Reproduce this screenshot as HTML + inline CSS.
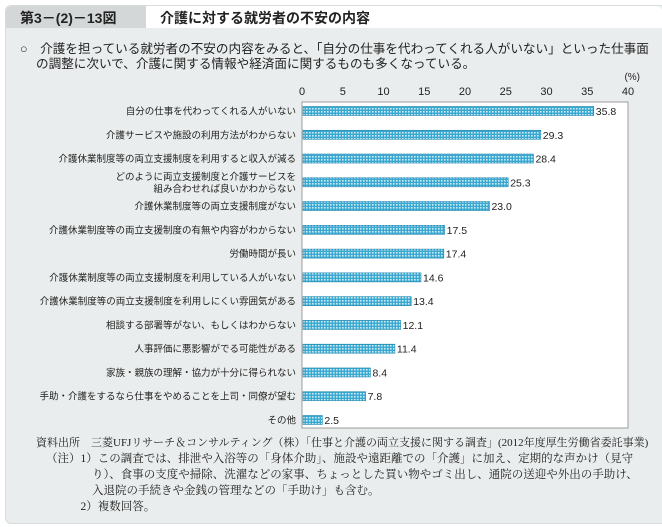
<!DOCTYPE html>
<html><head><meta charset="utf-8">
<style>
body{margin:0;width:662px;height:527px;background:#fff;font-family:"Liberation Sans","Noto Sans CJK JP",sans-serif;overflow:hidden}
#panel{position:absolute;left:5px;top:5px;width:660px;height:517px;background:#eaeded;border-radius:6px;border:1px solid #d8dcdc}
.t{position:absolute;white-space:nowrap;color:#222}
</style></head><body>
<div id="panel"></div>
<div style="position:absolute;left:6px;top:6px;width:656px;height:22px;background:#fff;border-radius:5px 5px 0 0"></div>
<div style="position:absolute;left:6px;top:6px;width:140px;height:22px;background:#d3d7d7;border-radius:5px 0 0 0"></div>
<div class="t" style="left:20px;top:8px;font-size:14px;font-weight:bold">第3－(2)－13図</div>
<div class="t" style="left:160px;top:8px;font-size:14px;font-weight:bold">介護に対する就労者の不安の内容</div>
<div class="t" style="left:20px;top:38px;font-size:12.6px">○　介護を担っている就労者の不安の内容をみると、「自分の仕事を代わってくれる人がいない」といった仕事面</div>
<div class="t" style="left:36px;top:53px;font-size:12.6px">の調整に次いで、介護に関する情報や経済面に関するものも多くなっている。</div>
<svg id="chart" width="662" height="527" style="position:absolute;left:0;top:0">
<defs><pattern id="pt" width="3" height="3" patternUnits="userSpaceOnUse"><rect width="3" height="3" fill="#3aa8d0"/><rect width="1.6" height="1.6" fill="#cdebf4"/></pattern></defs>
</svg>
<div class="t" style="left:36px;top:434px;font-size:11px;font-family:'Liberation Serif','Noto Serif CJK SC',serif">資料出所　三菱UFJリサーチ＆コンサルティング（株）「仕事と介護の両立支援に関する調査」(2012年度厚生労働省委託事業)</div>
<div class="t" style="left:46px;top:451px;font-size:11.5px;line-height:16px;font-family:'Liberation Serif','Noto Serif CJK SC',serif">（注）1）この調査では、排泄や入浴等の「身体介助」、施設や遠距離での「介護」に加え、定期的な声かけ（見守<br>　　　　り）、食事の支度や掃除、洗濯などの家事、ちょっとした買い物やゴミ出し、通院の送迎や外出の手助け、<br>　　　　入退院の手続きや金銭の管理などの「手助け」も含む。<br>　　　2）複数回答。</div>
<script>
const categories=["自分の仕事を代わってくれる人がいない","介護サービスや施設の利用方法がわからない","介護休業制度等の両立支援制度を利用すると収入が減る","どのように両立支援制度と介護サービスを|組み合わせれば良いかわからない","介護休業制度等の両立支援制度がない","介護休業制度等の両立支援制度の有無や内容がわからない","労働時間が長い","介護休業制度等の両立支援制度を利用している人がいない","介護休業制度等の両立支援制度を利用しにくい雰囲気がある","相談する部署等がない、もしくはわからない","人事評価に悪影響がでる可能性がある","家族・親族の理解・協力が十分に得られない","手助・介護をするなら仕事をやめることを上司・同僚が望む","その他"];
const values=[35.8,29.3,28.4,25.3,23.0,17.5,17.4,14.6,13.4,12.1,11.4,8.4,7.8,2.5];
const ticks=[0,5,10,15,20,25,30,35,40];
const svg=document.getElementById('chart');const NS='http://www.w3.org/2000/svg';
const x0=302,x1=628,y0=102,y1=428;
const xs=v=>x0+(x1-x0)*v/40;
const ys=i=>y0+9+(y1-y0-17)*i/(categories.length-1);
function mk(t,a){const e=document.createElementNS(NS,t);for(const k in a)e.setAttribute(k,a[k]);svg.appendChild(e);return e;}
const box=mk('rect',{x:x0,y:y0,width:x1-x0,height:y1-y0,fill:'#fff',stroke:'#888','stroke-width':0.8});


ticks.forEach(v=>{const t=mk('text',{x:xs(v),y:95,'font-size':11,'text-anchor':'middle',fill:'#222'});t.textContent=v;

});
const u=mk('text',{x:640,y:80,'font-size':10,'text-anchor':'end',fill:'#222'});u.textContent='(%)';


categories.forEach((c,i)=>{const y=ys(i);
const lines=c.split('|');
lines.forEach((l,j)=>{const t=mk('text',{x:296,y:y+3.5+(j-(lines.length-1)/2)*12,'font-size':9.5,'text-anchor':'end',fill:'#222'});t.textContent=l;

});
const b=mk('rect',{x:x0+1,y:y-4.5,width:xs(values[i])-x0-1,height:9,fill:'url(#pt)',stroke:'#1f86ad','stroke-width':0.6});


const v=mk('text',{x:xs(values[i])+2,y:y+4,'font-size':10.5,fill:'#222'});v.textContent=values[i].toFixed(1);

});
</script>
</body></html>
